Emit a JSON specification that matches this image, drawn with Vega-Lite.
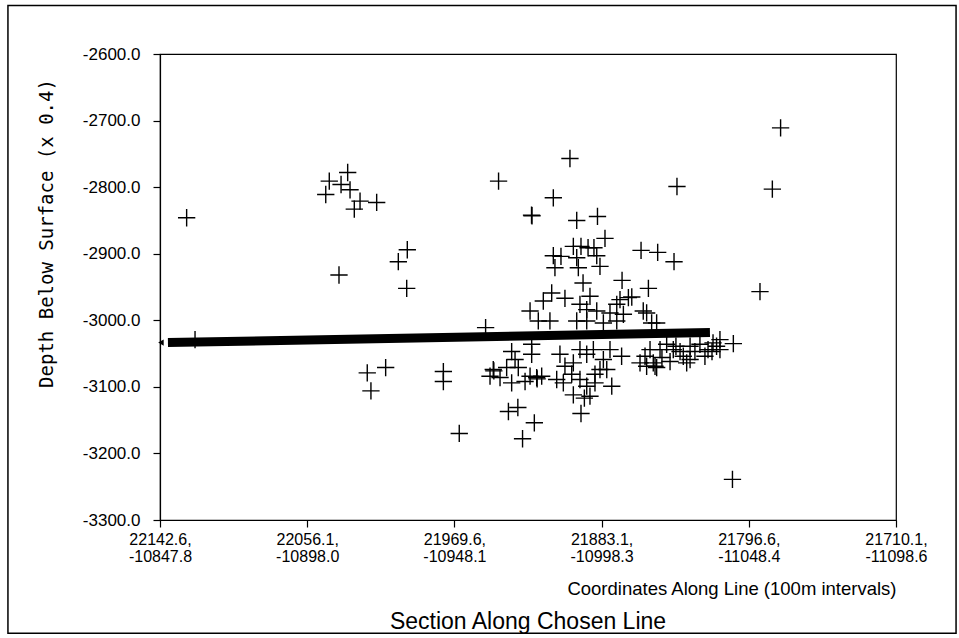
{
  "$schema": "https://vega.github.io/schema/vega-lite/v6.json",
  "autosize": {"type": "none"},
  "width": 736,
  "height": 466,
  "padding": {"left": 160, "top": 54, "right": 63, "bottom": 118},
  "background": "white",
  "config": {
    "locale": {
      "number": {"decimal": ".", "thousands": ",", "grouping": [3], "currency": ["$", ""], "minus": "-"}
    },
    "view": {"stroke": "black", "strokeWidth": 1.2},
    "axis": {
      "domainColor": "black",
      "tickColor": "black",
      "labelColor": "black",
      "titleColor": "black",
      "grid": false,
      "domainWidth": 1.2,
      "tickWidth": 1.2
    }
  },
  "title": {
    "text": "Section Along Chosen Line",
    "orient": "bottom",
    "anchor": "middle",
    "frame": "group",
    "font": "Liberation Sans",
    "fontSize": 23,
    "fontWeight": "normal",
    "color": "black",
    "offset": -23
  },
  "datasets": {
    "quakes": [
      {"dist": 0.181, "depth": -2846}, {"dist": 0.238, "depth": -3029},
      {"dist": 1.150, "depth": -2791}, {"dist": 1.275, "depth": -2778},
      {"dist": 1.230, "depth": -2796}, {"dist": 1.291, "depth": -2804},
      {"dist": 1.126, "depth": -2811}, {"dist": 1.359, "depth": -2821},
      {"dist": 1.320, "depth": -2833}, {"dist": 1.472, "depth": -2823},
      {"dist": 1.680, "depth": -2894}, {"dist": 1.619, "depth": -2912},
      {"dist": 1.216, "depth": -2932}, {"dist": 1.676, "depth": -2952},
      {"dist": 1.408, "depth": -3079}, {"dist": 1.533, "depth": -3071},
      {"dist": 1.433, "depth": -3106}, {"dist": 1.925, "depth": -3077},
      {"dist": 1.925, "depth": -3092}, {"dist": 2.033, "depth": -3170},
      {"dist": 2.300, "depth": -2791}, {"dist": 2.785, "depth": -2757},
      {"dist": 2.672, "depth": -2816}, {"dist": 2.524, "depth": -2842},
      {"dist": 2.527, "depth": -2843}, {"dist": 2.831, "depth": -2850},
      {"dist": 2.972, "depth": -2844}, {"dist": 3.023, "depth": -2877},
      {"dist": 3.268, "depth": -2895}, {"dist": 3.381, "depth": -2898},
      {"dist": 3.492, "depth": -2912}, {"dist": 3.512, "depth": -2799},
      {"dist": 4.160, "depth": -2803}, {"dist": 4.216, "depth": -2711},
      {"dist": 4.076, "depth": -2957}, {"dist": 3.895, "depth": -3035},
      {"dist": 3.889, "depth": -3239}, {"dist": 3.139, "depth": -2940},
      {"dist": 3.318, "depth": -2952}, {"dist": 2.808, "depth": -2889},
      {"dist": 2.860, "depth": -2889}, {"dist": 2.908, "depth": -2891},
      {"dist": 2.948, "depth": -2891}, {"dist": 2.672, "depth": -2903},
      {"dist": 2.724, "depth": -2904}, {"dist": 2.831, "depth": -2906},
      {"dist": 2.967, "depth": -2903}, {"dist": 2.683, "depth": -2921},
      {"dist": 2.842, "depth": -2921}, {"dist": 2.989, "depth": -2919},
      {"dist": 2.874, "depth": -2944}, {"dist": 2.661, "depth": -2959},
      {"dist": 2.751, "depth": -2967}, {"dist": 2.604, "depth": -2971},
      {"dist": 2.921, "depth": -2964}, {"dist": 2.853, "depth": -2976},
      {"dist": 2.899, "depth": -2984}, {"dist": 3.103, "depth": -2976},
      {"dist": 3.205, "depth": -2965}, {"dist": 3.283, "depth": -2986},
      {"dist": 2.514, "depth": -2986}, {"dist": 2.649, "depth": -3001},
      {"dist": 2.570, "depth": -3001}, {"dist": 2.899, "depth": -3001},
      {"dist": 2.967, "depth": -2986}, {"dist": 2.831, "depth": -3001},
      {"dist": 2.212, "depth": -3011}, {"dist": 2.367, "depth": -3137},
      {"dist": 2.431, "depth": -3131}, {"dist": 2.543, "depth": -3154},
      {"dist": 2.463, "depth": -3178}, {"dist": 2.860, "depth": -3140},
      {"dist": 2.883, "depth": -3117}, {"dist": 3.125, "depth": -2969},
      {"dist": 3.182, "depth": -2966}, {"dist": 3.057, "depth": -2989},
      {"dist": 3.148, "depth": -2991}, {"dist": 3.012, "depth": -3004},
      {"dist": 3.103, "depth": -3001}, {"dist": 3.306, "depth": -2989},
      {"dist": 3.340, "depth": -3004}, {"dist": 3.374, "depth": -3004},
      {"dist": 2.389, "depth": -3047}, {"dist": 2.525, "depth": -3036},
      {"dist": 2.412, "depth": -3059}, {"dist": 2.264, "depth": -3074},
      {"dist": 2.268, "depth": -3076}, {"dist": 2.242, "depth": -3084},
      {"dist": 2.355, "depth": -3071}, {"dist": 2.434, "depth": -3071},
      {"dist": 2.310, "depth": -3086}, {"dist": 2.389, "depth": -3094},
      {"dist": 2.480, "depth": -3092}, {"dist": 2.559, "depth": -3086},
      {"dist": 2.562, "depth": -3088}, {"dist": 2.593, "depth": -3084},
      {"dist": 2.514, "depth": -3084}, {"dist": 2.717, "depth": -3051},
      {"dist": 2.751, "depth": -3069}, {"dist": 2.808, "depth": -3064},
      {"dist": 2.853, "depth": -3044}, {"dist": 2.899, "depth": -3051},
      {"dist": 2.944, "depth": -3044}, {"dist": 2.797, "depth": -3081},
      {"dist": 2.740, "depth": -3094}, {"dist": 2.853, "depth": -3089},
      {"dist": 2.899, "depth": -3099}, {"dist": 2.921, "depth": -3114},
      {"dist": 2.808, "depth": -3112}, {"dist": 2.955, "depth": -3081},
      {"dist": 2.695, "depth": -3089}, {"dist": 2.525, "depth": -3051},
      {"dist": 3.442, "depth": -3036}, {"dist": 3.487, "depth": -3044},
      {"dist": 3.533, "depth": -3047}, {"dist": 3.601, "depth": -3039},
      {"dist": 3.668, "depth": -3036}, {"dist": 3.555, "depth": -3054},
      {"dist": 3.329, "depth": -3044}, {"dist": 3.295, "depth": -3054},
      {"dist": 3.351, "depth": -3064}, {"dist": 3.374, "depth": -3071},
      {"dist": 3.465, "depth": -3062}, {"dist": 3.601, "depth": -3059},
      {"dist": 3.261, "depth": -3064}, {"dist": 3.057, "depth": -3044},
      {"dist": 3.136, "depth": -3054}, {"dist": 3.012, "depth": -3059},
      {"dist": 2.989, "depth": -3074}, {"dist": 3.035, "depth": -3074},
      {"dist": 3.069, "depth": -3099}, {"dist": 2.955, "depth": -3094},
      {"dist": 3.781, "depth": -3039}, {"dist": 3.757, "depth": -3034},
      {"dist": 3.578, "depth": -3064}, {"dist": 3.723, "depth": -3044},
      {"dist": 3.804, "depth": -3044}, {"dist": 3.363, "depth": -3069},
      {"dist": 3.306, "depth": -3069}, {"dist": 3.397, "depth": -3044},
      {"dist": 3.505, "depth": -3039}, {"dist": 3.634, "depth": -3047},
      {"dist": 3.702, "depth": -3054}, {"dist": 3.410, "depth": -3056},
      {"dist": 3.750, "depth": -3047}, {"dist": 3.804, "depth": -3029}
    ],
    "trend": [
      {"dist": 0.054, "depth": -3033.5},
      {"dist": 3.736, "depth": -3018.5}
    ],
    "frame": [
      {"left": -1.033, "right": 5.408, "top": -2527, "bottom": -3470}
    ]
  },
  "layer": [
    {
      "data": {"name": "trend"},
      "mark": {"type": "line", "color": "black", "strokeWidth": 9, "strokeCap": "butt"},
      "encoding": {
        "x": {
          "field": "dist",
          "type": "quantitative",
          "scale": {"domain": [0, 5], "nice": false, "zero": false},
          "axis": {
            "values": [0, 1, 2, 3, 4, 5],
            "labelExpr": "[['22142.6,','-10847.8'],['22056.1,','-10898.0'],['21969.6,','-10948.1'],['21883.1,','-10998.3'],['21796.6,','-11048.4'],['21710.1,','-11098.6']][datum.value]",
            "labelFont": "Liberation Sans",
            "labelFontSize": 16,
            "labelLineHeight": 17,
            "labelBaseline": "top",
            "labelPadding": 4,
            "labelOverlap": false,
            "labelBound": false,
            "labelFlush": false,
            "tickSize": 7,
            "title": "Coordinates Along Line (100m intervals)",
            "titleFont": "Liberation Sans",
            "titleFontSize": 18.5,
            "titleFontWeight": "normal",
            "titleAlign": "right",
            "titleBaseline": "middle",
            "titleX": 736,
            "titleY": 68
          }
        },
        "y": {
          "field": "depth",
          "type": "quantitative",
          "scale": {"domain": [-3300, -2600], "nice": false, "zero": false},
          "axis": {
            "values": [-3300, -3200, -3100, -3000, -2900, -2800, -2700, -2600],
            "format": ".1f",
            "labelFont": "Liberation Sans",
            "labelFontSize": 17,
            "labelPadding": 13,
            "tickSize": 7,
            "title": "Depth Below Surface (x 0.4)",
            "titleFont": "DejaVu Sans Mono",
            "titleFontSize": 19,
            "titleFontWeight": "normal",
            "titleAngle": -90,
            "titleAlign": "center",
            "titleBaseline": "middle",
            "titleX": -114,
            "titleY": 179
          }
        }
      }
    },
    {
      "data": {"name": "trend"},
      "transform": [{"filter": "datum.dist < 1"}],
      "mark": {"type": "point", "shape": "triangle-left", "filled": true, "color": "black", "size": 40, "xOffset": -7, "opacity": 1},
      "encoding": {
        "x": {"field": "dist", "type": "quantitative", "scale": {"domain": [0, 5], "nice": false, "zero": false}},
        "y": {"field": "depth", "type": "quantitative", "scale": {"domain": [-3300, -2600], "nice": false, "zero": false}}
      }
    },
    {
      "data": {"name": "quakes"},
      "mark": {"type": "point", "shape": "M-1,0L1,0M0,-1L0,1", "filled": false, "stroke": "black", "strokeWidth": 1.4, "size": 300, "opacity": 1},
      "encoding": {
        "x": {"field": "dist", "type": "quantitative", "scale": {"domain": [0, 5], "nice": false, "zero": false}},
        "y": {"field": "depth", "type": "quantitative", "scale": {"domain": [-3300, -2600], "nice": false, "zero": false}}
      }
    },
    {
      "data": {"name": "frame"},
      "mark": {"type": "rect", "fill": null, "stroke": "black", "strokeWidth": 1.5, "clip": false},
      "encoding": {
        "x": {"field": "left", "type": "quantitative", "scale": {"domain": [0, 5], "nice": false, "zero": false}},
        "x2": {"field": "right"},
        "y": {"field": "top", "type": "quantitative", "scale": {"domain": [-3300, -2600], "nice": false, "zero": false}},
        "y2": {"field": "bottom"}
      }
    }
  ]
}
